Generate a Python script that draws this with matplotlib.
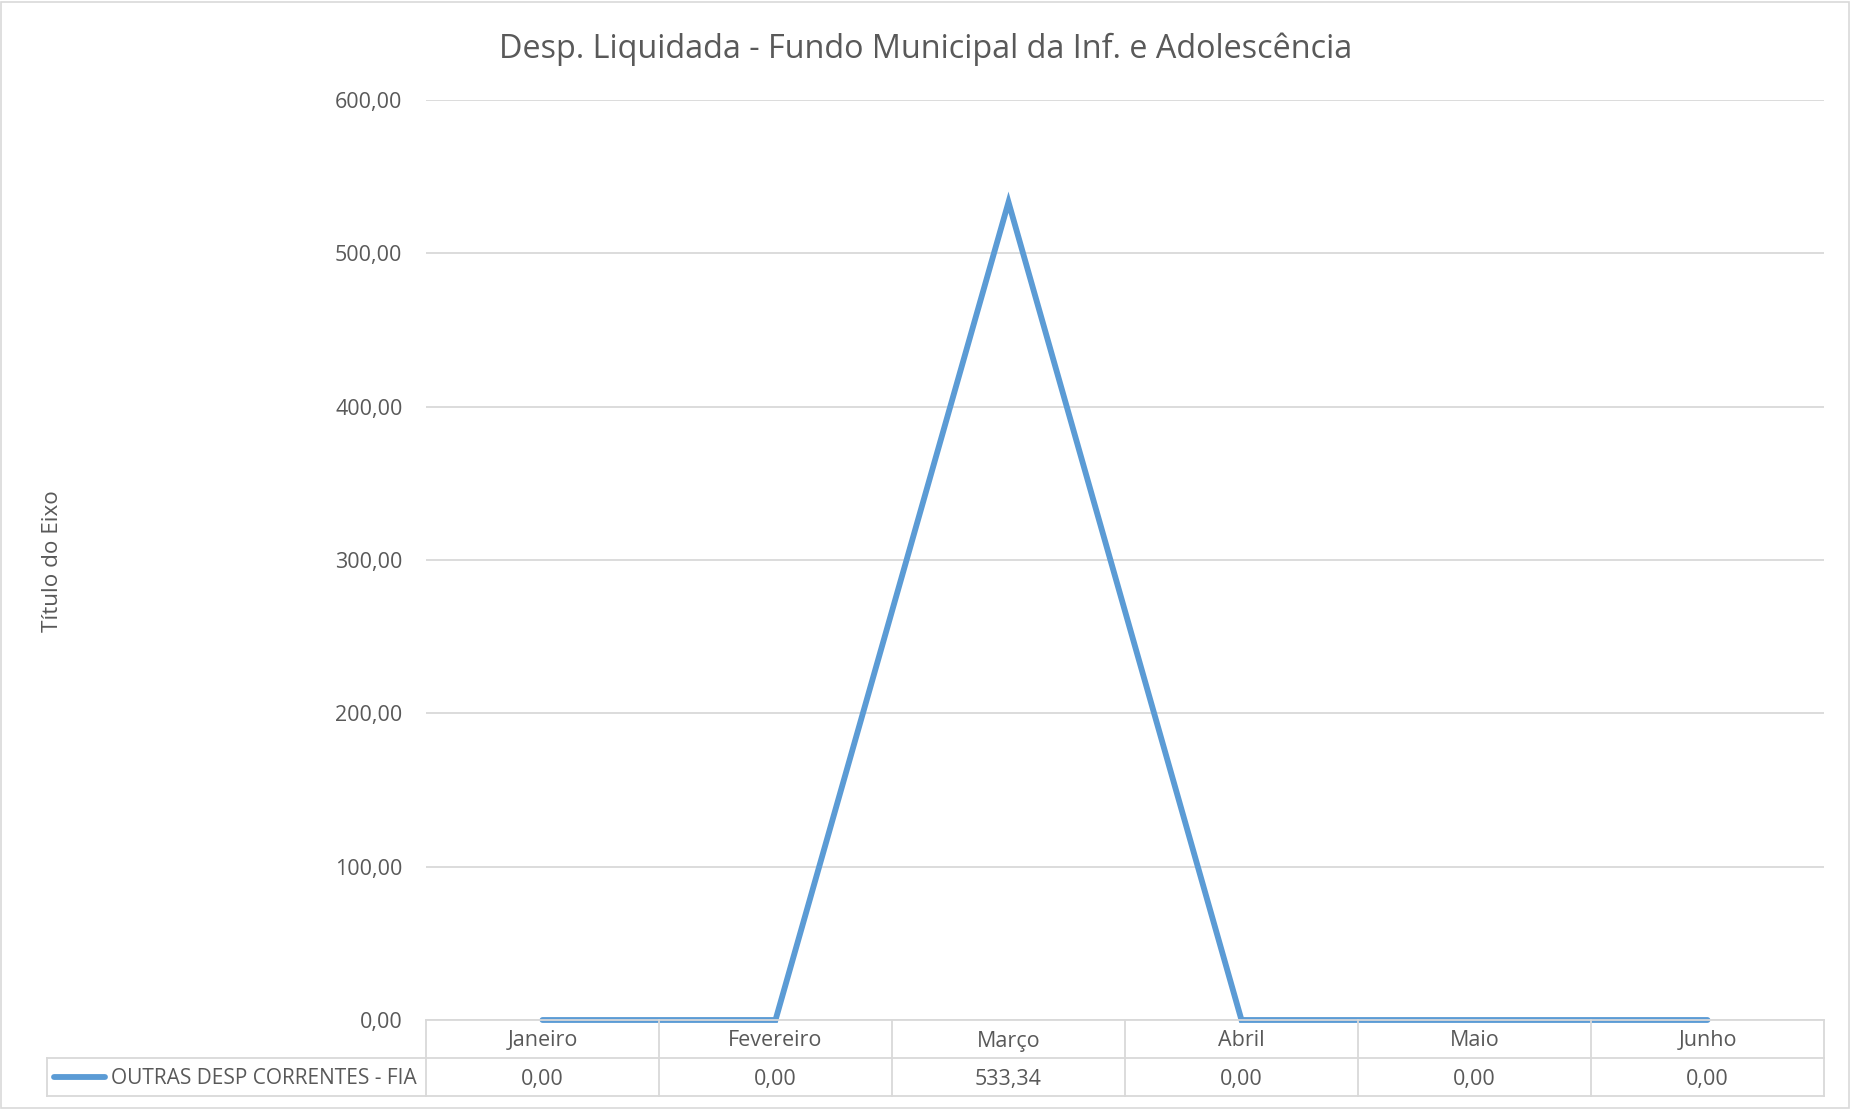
import matplotlib
matplotlib.use("Agg")
import matplotlib.pyplot as plt
from matplotlib.transforms import blended_transform_factory
from matplotlib.patches import Rectangle

months = ["Janeiro", "Fevereiro", "Março", "Abril", "Maio", "Junho"]
values = [0.00, 0.00, 533.34, 0.00, 0.00, 0.00]
series_name = "OUTRAS DESP CORRENTES - FIA"
title = "Desp. Liquidada - Fundo Municipal da Inf. e Adolescência"
y_label = "Título do Eixo"
y_ticks = [0, 100, 200, 300, 400, 500, 600]

def fmt(v):
    return f"{v:,.2f}".replace(",", "X").replace(".", ",").replace("X", ".")

plt.rcParams['font.family'] = ['Open Sans', 'DejaVu Sans']
TXT = "#595959"
GRID = "#D9D9D9"
BLUE = "#5B9BD5"
FS = 15.5

W, H = 1851, 1110
fig = plt.figure(figsize=(W / 100, H / 100), dpi=100)
fig.patch.set_facecolor("white")

def fx(px):
    return px / W

def fy(py):
    return 1 - py / H

# outer chart border
fig.add_artist(Rectangle((fx(1), fy(1108)), fx(1848), 1106 / H, transform=fig.transFigure,
                         fill=False, edgecolor=GRID, linewidth=1.2))

left, right, top, bottom = 426, 1824, 100, 1020
ax = fig.add_axes([fx(left), fy(bottom), fx(right - left), (bottom - top) / H])
x = list(range(len(months)))
ax.plot(x, values, color=BLUE, linewidth=4.2, solid_capstyle='round', solid_joinstyle='miter',
        zorder=3, clip_on=False)
ax.set_xlim(-0.5, len(months) - 0.5)
ax.set_ylim(0, 600)
ax.set_yticks(y_ticks)
ax.set_yticklabels([fmt(v) for v in y_ticks], color=TXT, fontsize=FS)
ax.tick_params(axis='y', length=0, pad=17)
ax.set_xticks([])
for s in ax.spines.values():
    s.set_visible(False)
ax.grid(axis='y', color=GRID, linewidth=1.3)
ax.set_axisbelow(True)

fig.text(fx(926), fy(49), title, ha='center', va='center', fontsize=23.3, color=TXT)
fig.text(fx(53), fy(561), y_label, ha='center', va='center', rotation=90, fontsize=16.2, color=TXT)

# data table
tr = blended_transform_factory(ax.transData, fig.transFigure)
row1_top, row1_bot, row2_bot = 1020, 1058, 1096
lw = 1.3
fig.add_artist(plt.Line2D([fx(left), fx(right)], [fy(row1_top)] * 2, color=GRID, lw=lw, transform=fig.transFigure))
fig.add_artist(plt.Line2D([fx(47), fx(right)], [fy(row1_bot)] * 2, color=GRID, lw=lw, transform=fig.transFigure))
fig.add_artist(plt.Line2D([fx(47), fx(right)], [fy(row2_bot)] * 2, color=GRID, lw=lw, transform=fig.transFigure))
fig.add_artist(plt.Line2D([fx(47), fx(47)], [fy(row1_bot), fy(row2_bot)], color=GRID, lw=lw, transform=fig.transFigure))
for i in range(len(months) + 1):
    xb = i - 0.5
    fig.add_artist(plt.Line2D([xb, xb], [fy(row1_top), fy(row2_bot)], color=GRID, lw=lw, transform=tr))
for i, (m, v) in enumerate(zip(months, values)):
    fig.text(i, fy(1041), m, transform=tr, ha='center', va='center', fontsize=FS, color=TXT)
    fig.text(i, fy(1079), fmt(v), transform=tr, ha='center', va='center', fontsize=FS, color=TXT)

# legend key in table
fig.add_artist(plt.Line2D([fx(54), fx(105)], [fy(1077)] * 2, color=BLUE, lw=4.2,
                          solid_capstyle='round', transform=fig.transFigure))
fig.text(fx(111), fy(1079), series_name, ha='left', va='center', fontsize=15, color=TXT)

fig.savefig("out.png", dpi=100, facecolor="white")
